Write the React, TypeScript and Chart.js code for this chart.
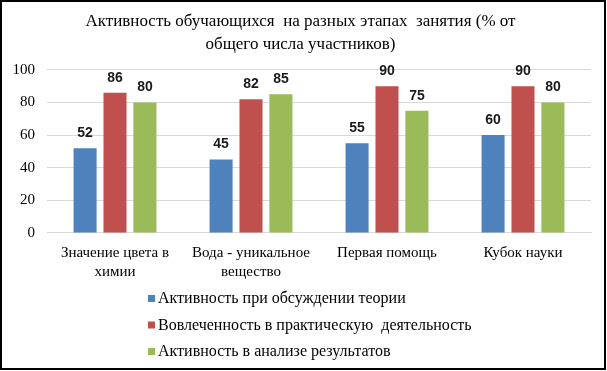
import React, { useEffect, useRef } from "react";
import { Chart, registerables } from "chart.js";

Chart.register(...registerables);

const titleLines = ["Активность обучающихся  на разных этапах  занятия (% от", "общего числа участников)"];
const categories: string[][] = [
  ["Значение цвета в", "химии"],
  ["Вода - уникальное", "вещество"],
  ["Первая помощь"],
  ["Кубок науки"],
];
const seriesNames = [
  "Активность при обсуждении теории",
  "Вовлеченность в практическую  деятельность",
  "Активность в анализе результатов",
];
const theoryValues = [52, 45, 55, 60];
const practiceValues = [86, 82, 90, 90];
const analysisValues = [80, 85, 75, 80];
const seriesColors = ["#4F81BD", "#C0504D", "#9BBB59"];
const yTicks = [0, 20, 40, 60, 80, 100];

const SERIF = '"Liberation Serif"';

const valueLabelPlugin = {
  id: "valueLabels",
  afterDatasetsDraw(chart: any) {
    const ctx = chart.ctx;
    ctx.save();
    ctx.font = 'bold 14px "Liberation Sans"';
    ctx.fillStyle = "#1a1a1a";
    ctx.textAlign = "center";
    ctx.textBaseline = "middle";
    chart.data.datasets.forEach((ds: any, i: number) => {
      const meta = chart.getDatasetMeta(i);
      meta.data.forEach((bar: any, j: number) => {
        ctx.fillText(String(ds.data[j]), bar.x, bar.y - 15);
      });
    });
    ctx.restore();
  },
};

const stackLegendPlugin = {
  id: "stackLegend",
  afterDraw(chart: any) {
    const ctx = chart.ctx;
    ctx.save();
    ctx.font = `16px ${SERIF}`;
    ctx.textBaseline = "middle";
    ctx.textAlign = "left";
    const x = 148;
    const y0 = 299;
    const step = 26.5;
    chart.data.datasets.forEach((ds: any, i: number) => {
      const y = y0 + i * step;
      ctx.fillStyle = ds.backgroundColor;
      ctx.fillRect(x, y - 4, 7, 7);
      ctx.fillStyle = "#000";
      ctx.fillText(ds.label, x + 10, y);
    });
    ctx.restore();
  },
};

export default function App() {
  const canvasRef = useRef<HTMLCanvasElement>(null);

  useEffect(() => {
    const canvas = canvasRef.current;
    if (!canvas) return;
    const ctx0 = canvas.getContext("2d");
    if (ctx0) {
      ctx0.font = `16px ${SERIF}`;
      ctx0.measureText("Активность 100");
    }
    Chart.defaults.font.family = SERIF;
    const values = [theoryValues, practiceValues, analysisValues];
    const chart = new Chart(canvas, {
      type: "bar",
      data: {
        labels: categories,
        datasets: seriesNames.map((name, i) => ({
          label: name,
          data: values[i],
          backgroundColor: seriesColors[i],
          borderWidth: 0,
          categoryPercentage: 0.66,
          barPercentage: 0.77,
        })),
      },
      options: {
        animation: false,
        responsive: false,
        layout: { padding: { left: 10, right: 16, top: 0, bottom: 78 } },
        plugins: {
          legend: { display: false },
          tooltip: { enabled: false },
          title: {
            display: true,
            text: titleLines,
            color: "#000",
            font: { family: SERIF, size: 17, weight: "normal", lineHeight: 1.35 },
            padding: { top: 10, bottom: 14 },
          },
        },
        scales: {
          x: {
            grid: { display: false, drawTicks: false },
            border: { display: true, color: "#d9d9d9", width: 1 },
            ticks: {
              color: "#000",
              font: { family: SERIF, size: 15, lineHeight: 1.27 },
              padding: 11,
              maxRotation: 0,
              autoSkip: false,
            },
          },
          y: {
            min: 0,
            max: 100,
            afterBuildTicks(scale: any) {
              scale.ticks = yTicks.map((v) => ({ value: v }));
            },
            afterFit(scale: any) {
              scale.width = 37;
            },
            grid: { color: "#d9d9d9", drawTicks: false },
            border: { display: false },
            ticks: {
              color: "#000",
              font: { family: SERIF, size: 15 },
              padding: 12,
            },
          },
        },
      },
      plugins: [valueLabelPlugin, stackLegendPlugin],
    });
    return () => chart.destroy();
  }, []);

  return (
    <div>
      <canvas ref={canvasRef} width={607} height={371} style={{ position: "absolute", left: 0, top: 0 }} />
      <div
        style={{
          position: "absolute",
          left: 0,
          top: 0,
          width: 606,
          height: 370,
          boxSizing: "border-box",
          border: "2px solid #000",
          pointerEvents: "none",
        }}
      />
    </div>
  );
}
